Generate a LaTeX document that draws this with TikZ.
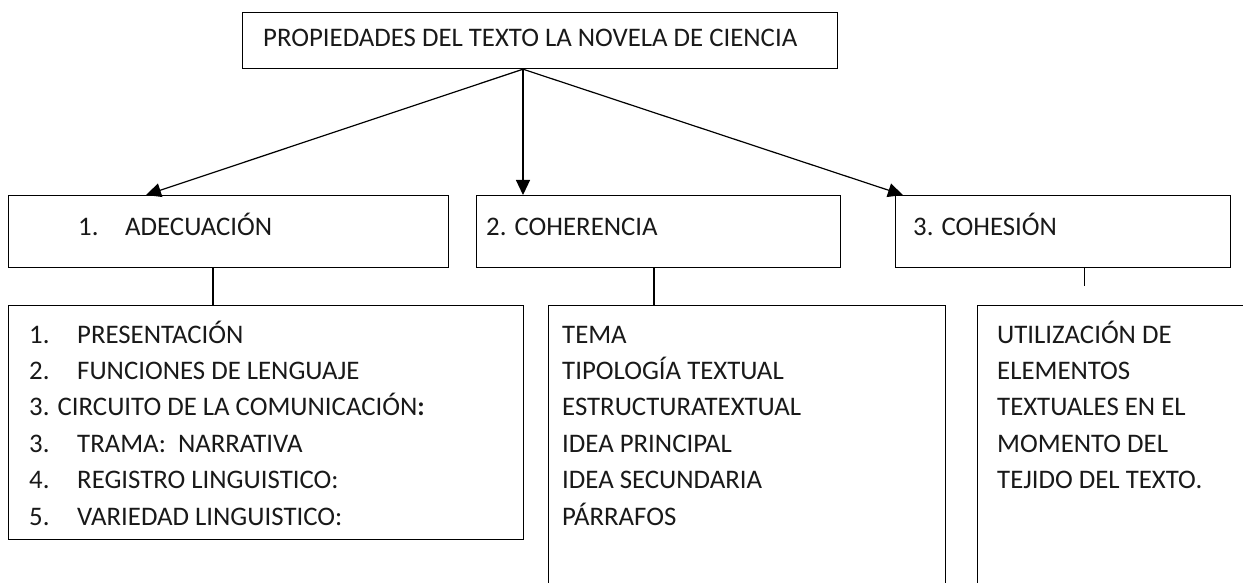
\documentclass[tikz,border=0pt]{standalone}
\usepackage{fontspec}
\setmainfont{Carlito}
\usetikzlibrary{arrows.meta,calc}
\begin{document}
\begin{tikzpicture}[x=1pt,y=-1pt,
  box/.style={draw, line width=1.2pt, rectangle, inner sep=0pt, anchor=north west},
  txt/.style={anchor=base west, inner sep=0pt, font=\fontsize{26.8}{30}\selectfont, text=black!90},
  conn/.style={line width=1.2pt},
  arr/.style={line width=1.2pt, -{Triangle[length=15pt,width=14pt]}}]
\useasboundingbox (0,0) rectangle (1243,583);
% boxes
\node[box, minimum width=595pt, minimum height=56pt] (top) at (242,12) {};
\node[box, minimum width=440pt, minimum height=72pt] (b1) at (8,195) {};
\node[box, minimum width=364pt, minimum height=72pt] (b2) at (476,195) {};
\node[box, minimum width=335pt, minimum height=72pt] (b3) at (895,195) {};
\node[box, minimum width=515pt, minimum height=234pt] (l1) at (8,305) {};
\node[box, minimum width=397pt, minimum height=300pt] (l2) at (548,305) {};
\node[box, minimum width=300pt, minimum height=300pt] (l3) at (977,305) {};
% texts
\node[txt] (tt) at (263,47) {PROPIEDADES DEL TEXTO LA NOVELA DE CIENCIA};
\node[txt] (t1n) at (78,235) {1.};
\node[txt] (t1) at (125,235) {ADECUACIÓN};
\node[txt] (t2) at (486,235) {2. COHERENCIA};
\node[txt] (t3) at (913,235) {3. COHESIÓN};
% list 1
\node[txt] (a1n) at (29,343) {1.};
\node[txt] (a1) at (77,343) {PRESENTACIÓN};
\node[txt] (a2n) at (29,379.4) {2.};
\node[txt] (a2) at (77,379.4) {FUNCIONES DE LENGUAJE};
\node[txt] (a3) at (29,415.8) {3. CIRCUITO DE LA COMUNICACIÓN\textbf{:}};
\node[txt] (a4n) at (29,452.2) {3.};
\node[txt] (a4) at (77,452.2) {TRAMA:\ \ NARRATIVA};
\node[txt] (a5n) at (29,488.6) {4.};
\node[txt] (a5) at (77,488.6) {REGISTRO LINGUISTICO:};
\node[txt] (a6n) at (29,525) {5.};
\node[txt] (a6) at (77,525) {VARIEDAD LINGUISTICO:};
% list 2
\node[txt] (c1) at (562,343) {TEMA};
\node[txt] (c2) at (562,379.4) {TIPOLOGÍA TEXTUAL};
\node[txt] (c3) at (562,415.8) {ESTRUCTURATEXTUAL};
\node[txt] (c4) at (562,452.2) {IDEA PRINCIPAL};
\node[txt] (c5) at (562,488.6) {IDEA SECUNDARIA};
\node[txt] (c6) at (562,525) {PÁRRAFOS};
% list 3
\node[txt] (d1) at (997,343) {UTILIZACIÓN DE};
\node[txt] (d2) at (997,379.4) {ELEMENTOS};
\node[txt] (d3) at (997,415.8) {TEXTUALES EN EL};
\node[txt] (d4) at (997,452.2) {MOMENTO DEL};
\node[txt] (d5) at (997,488.6) {TEJIDO DEL TEXTO.};
% connectors
\coordinate (o) at ($(top.south west)+(281,0)$);
\draw[arr] (o) -- ($(b1.north west)+(138,0)$);
\draw[arr] (o) -- ($(b2.north west)+(47,0)$);
\draw[arr] (o) -- ($(b3.north west)+(8,0)$);
\draw[conn] ($(b1.south west)+(205,0)$) -- ($(l1.north west)+(205,0)$);
\draw[conn] ($(b2.south west)+(178,0)$) -- ($(l2.north west)+(106,0)$);
\coordinate (e3) at ($(b3.south west)+(189,18)$);
\draw[line width=0.8pt] ($(b3.south west)+(189,0)$) -- (e3);
\end{tikzpicture}
\end{document}
